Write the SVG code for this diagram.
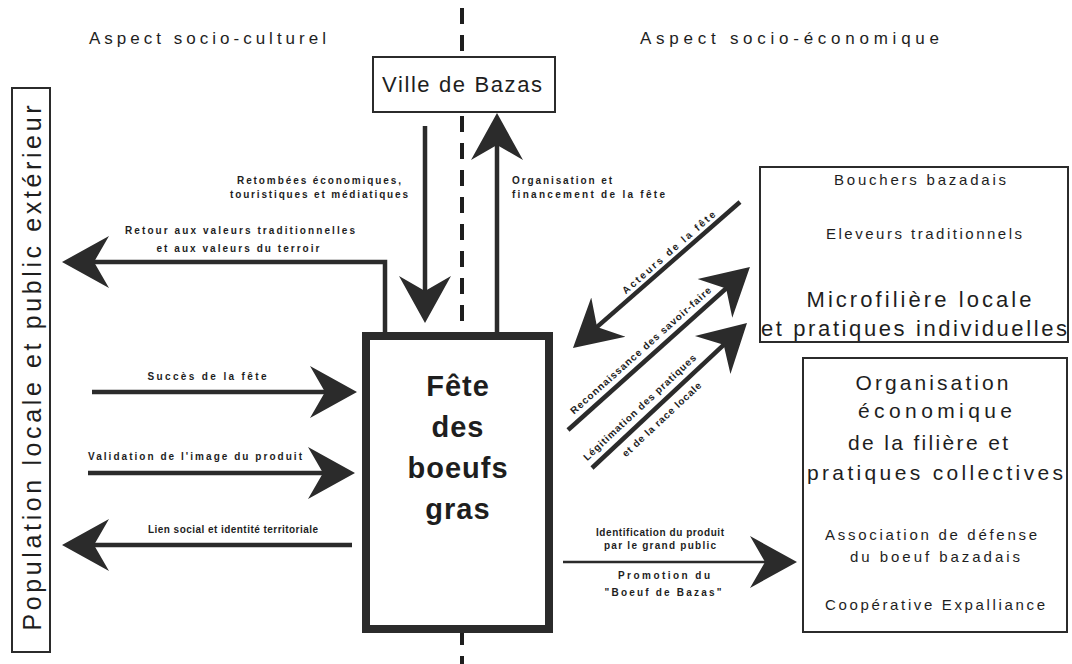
<svg xmlns="http://www.w3.org/2000/svg" width="1072" height="664" viewBox="0 0 1072 664">
<style>
.bg{fill:#fff}
.box{fill:#fff;stroke:#2b2b2b;stroke-width:2}
.big{font-family:"Liberation Sans",Arial,sans-serif;fill:#1e1e1e}
.lbl{font-family:"Liberation Sans",Arial,sans-serif;font-weight:bold;font-size:10px;fill:#1e1e1e}
.fete{font-family:"Liberation Sans",Arial,sans-serif;font-weight:bold;font-size:29px;fill:#1e1e1e;letter-spacing:1px}
.ln{fill:none;stroke:#2b2b2b;stroke-width:4.5}
.thin{fill:none;stroke:#2b2b2b;stroke-width:2.5}
.dash{stroke:#1e1e1e;stroke-width:4;stroke-dasharray:16 11}
</style>
<defs>
<marker id="ah" markerUnits="userSpaceOnUse" markerWidth="50" markerHeight="56" viewBox="0 -28 50 56" refX="37" refY="0" orient="auto">
<path d="M0,-26 L47,0 L0,26 L15,0 Z" fill="#2b2b2b"/>
</marker>
</defs>
<rect class="bg" x="0" y="0" width="1072" height="664"/>

<line class="dash" x1="462" y1="8" x2="462" y2="664"/>

<text class="big" x="89" y="44" font-size="17" textLength="237" lengthAdjust="spacing">Aspect socio-culturel</text>
<text class="big" x="640" y="44" font-size="17" textLength="299" lengthAdjust="spacing">Aspect socio-économique</text>

<g id="connectors">
<line class="ln" x1="425" y1="126" x2="425" y2="313" marker-end="url(#ah)"/>
<line class="ln" x1="497" y1="332" x2="497" y2="123" marker-end="url(#ah)"/>
<polyline class="ln" points="385,332 385,262 72,262" marker-end="url(#ah)"/>
<line class="ln" x1="92" y1="392" x2="347" y2="392" marker-end="url(#ah)"/>
<line class="ln" x1="88" y1="473" x2="345" y2="473" marker-end="url(#ah)"/>
<line class="ln" x1="352" y1="545" x2="72" y2="545" marker-end="url(#ah)"/>
<line class="thin" x1="563" y1="562" x2="787" y2="562" marker-end="url(#ah)"/>
<line class="ln" x1="740" y1="202" x2="580.5" y2="341.4" marker-end="url(#ah)"/>
<line class="ln" x1="568" y1="430" x2="742.5" y2="273.7" marker-end="url(#ah)"/>
<line class="ln" x1="592" y1="468" x2="739.7" y2="329.8" marker-end="url(#ah)"/>

<text class="lbl" x="319" y="184" text-anchor="middle" textLength="164" lengthAdjust="spacing">Retombées économiques,</text>
<text class="lbl" x="319" y="198" text-anchor="middle" textLength="178" lengthAdjust="spacing">touristiques et médiatiques</text>
<text class="lbl" x="512" y="184" textLength="100" lengthAdjust="spacing">Organisation et</text>
<text class="lbl" x="512" y="198" textLength="153" lengthAdjust="spacing">financement de la fête</text>
<text class="lbl" x="240" y="234" text-anchor="middle" textLength="230" lengthAdjust="spacing">Retour aux valeurs traditionnelles</text>
<text class="lbl" x="238" y="252" text-anchor="middle" textLength="163" lengthAdjust="spacing">et aux valeurs du terroir</text>
<text class="lbl" x="207" y="380" text-anchor="middle" textLength="119" lengthAdjust="spacing">Succès de la fête</text>
<text class="lbl" x="195" y="460" text-anchor="middle" textLength="214" lengthAdjust="spacing">Validation de l'image du produit</text>
<text class="lbl" x="233" y="533" text-anchor="middle" textLength="170" lengthAdjust="spacing">Lien social et identité territoriale</text>
<text class="lbl" x="660" y="536" text-anchor="middle" textLength="128" lengthAdjust="spacing">Identification du produit</text>
<text class="lbl" x="660" y="549" text-anchor="middle" textLength="112" lengthAdjust="spacing">par le grand public</text>
<text class="lbl" x="664" y="579" text-anchor="middle" textLength="92" lengthAdjust="spacing">Promotion du</text>
<text class="lbl" x="663" y="596" text-anchor="middle" textLength="117" lengthAdjust="spacing">"Boeuf de Bazas"</text>
<text class="lbl" transform="translate(671,255) rotate(-41.2)" text-anchor="middle" textLength="120" lengthAdjust="spacing">Acteurs de la fête</text>
<text class="lbl" transform="translate(643,353) rotate(-41.8)" text-anchor="middle" textLength="185" lengthAdjust="spacing">Reconnaissance des savoir-faire</text>
<text class="lbl" transform="translate(642,410) rotate(-43.1)" text-anchor="middle" textLength="150" lengthAdjust="spacing">Légitimation des pratiques</text>
<text class="lbl" transform="translate(664,422) rotate(-43.1)" text-anchor="middle" textLength="104" lengthAdjust="spacing">et de la race locale</text>
</g>

<g id="ville">
<rect class="box" x="373" y="57" width="182" height="55"/>
<text class="big" x="382" y="92" font-size="22" textLength="160" lengthAdjust="spacing">Ville de Bazas</text>
</g>

<g id="fete">
<rect x="366" y="336" width="183" height="293" fill="#fff" stroke="#2b2b2b" stroke-width="8"/>
<text class="fete" x="458" y="396" text-anchor="middle">Fête</text>
<text class="fete" x="458" y="437" text-anchor="middle">des</text>
<text class="fete" x="458" y="478" text-anchor="middle">boeufs</text>
<text class="fete" x="458" y="519" text-anchor="middle">gras</text>
</g>

<g id="population">
<rect class="box" x="12" y="88" width="38" height="564"/>
<text class="big" transform="translate(41,368) rotate(-90)" font-size="25" text-anchor="middle" textLength="525" lengthAdjust="spacing">Population locale et public extérieur</text>
</g>

<g id="microfiliere">
<rect class="box" x="760" y="167" width="308" height="175"/>
<text class="big" x="920" y="185" font-size="15" text-anchor="middle" textLength="172" lengthAdjust="spacing">Bouchers bazadais</text>
<text class="big" x="924" y="239" font-size="15" text-anchor="middle" textLength="196" lengthAdjust="spacing">Eleveurs traditionnels</text>
<text class="big" x="919" y="307" font-size="22" text-anchor="middle" textLength="225" lengthAdjust="spacing">Microfilière locale</text>
<text class="big" x="914" y="336" font-size="22" text-anchor="middle" textLength="306" lengthAdjust="spacing">et pratiques individuelles</text>
</g>

<g id="organisation">
<rect class="box" x="803" y="358" width="264" height="274"/>
<text class="big" x="932" y="390" font-size="21" text-anchor="middle" textLength="153" lengthAdjust="spacing">Organisation</text>
<text class="big" x="935" y="418" font-size="21" text-anchor="middle" textLength="154" lengthAdjust="spacing">économique</text>
<text class="big" x="928" y="450" font-size="21" text-anchor="middle" textLength="160" lengthAdjust="spacing">de la filière et</text>
<text class="big" x="935" y="480" font-size="21" text-anchor="middle" textLength="256" lengthAdjust="spacing">pratiques collectives</text>
<text class="big" x="931" y="540" font-size="15" text-anchor="middle" textLength="212" lengthAdjust="spacing">Association de défense</text>
<text class="big" x="935" y="562" font-size="15" text-anchor="middle" textLength="170" lengthAdjust="spacing">du boeuf bazadais</text>
<text class="big" x="935" y="610" font-size="15" text-anchor="middle" textLength="220" lengthAdjust="spacing">Coopérative Expalliance</text>
</g>
</svg>
